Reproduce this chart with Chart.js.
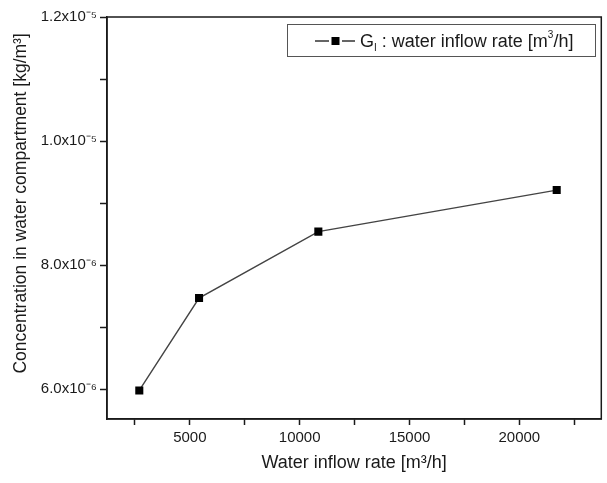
<!DOCTYPE html>
<html>
<head>
<meta charset="utf-8">
<script src="https://cdn.jsdelivr.net/npm/chart.js@4.4.0/dist/chart.umd.min.js"></script>
<style>
  html, body { margin: 0; padding: 0; background: #fff; }
</style>
</head>
<body>
<canvas id="chart" width="607" height="483"></canvas>
<script>
// values
const inflowRates = [2700, 5420, 10850, 21700];                 // m3/h
const concentrations = [5.98e-6, 7.47e-6, 8.54e-6, 9.21e-6];   // kg/m3
const xTicks = [2500, 5000, 7500, 10000, 12500, 15000, 17500, 20000, 22500];
const xTickLabels = ['', '5000', '', '10000', '', '15000', '', '20000', ''];
const yTicks = [6e-6, 7e-6, 8e-6, 9e-6, 1e-5, 1.1e-5, 1.2e-5];
const yTickLabels = ['6.0x10⁻⁶', '', '8.0x10⁻⁶', '', '1.0x10⁻⁵', '', '1.2x10⁻⁵'];

const FONT = "'Liberation Sans', Arial, sans-serif";
const INK = '#1a1a1a';

// box around the plot area (top and right sides)
const frame = {
    id: 'frame',
    afterDraw(chart) {
        const {ctx, chartArea: a} = chart;
        ctx.save();
        ctx.strokeStyle = INK;
        ctx.lineWidth = 1.5;
        ctx.strokeRect(a.left, a.top, a.right - a.left, a.bottom - a.top);
        ctx.restore();
    }
};

// Origin-style legend box with sub/superscripts
const legendBox = {
    id: 'legendBox',
    afterDraw(chart) {
        const ctx = chart.ctx;
        const y = 41;
        ctx.save();
        ctx.strokeStyle = '#555';
        ctx.lineWidth = 1;
        ctx.strokeRect(287.5, 24.5, 308, 32);

        ctx.strokeStyle = '#333';
        ctx.lineWidth = 1.5;
        ctx.beginPath();
        ctx.moveTo(315, y); ctx.lineTo(329, y);
        ctx.moveTo(342, y); ctx.lineTo(355, y);
        ctx.stroke();
        ctx.fillStyle = '#000';
        ctx.fillRect(331.5, y - 4, 8, 8);

        ctx.fillStyle = INK;
        ctx.textBaseline = 'alphabetic';
        let x = 360;
        const base = 47;
        const put = (t, size, dy) => {
            ctx.font = size + 'px ' + FONT;
            ctx.fillText(t, x, base + dy);
            x += ctx.measureText(t).width;
        };
        put('G', 18, 0);
        put('I', 10, 4);
        put(' : water inflow rate [m', 18, 0);
        put('3', 10, -9);
        put('/h]', 18, 0);
        ctx.restore();
    }
};

const ctx = document.getElementById('chart').getContext('2d');
const chart = new Chart(ctx, {
    type: 'line',
    data: {
        datasets: [{
            label: 'GI : water inflow rate [m3/h]',
            data: inflowRates.map((x, i) => ({x: x, y: concentrations[i]})),
            borderColor: '#444',
            borderWidth: 1.4,
            pointStyle: 'rect',
            pointRadius: 5.7,
            pointBackgroundColor: '#000',
            pointBorderColor: '#000',
            pointBorderWidth: 0,
            tension: 0
        }]
    },
    options: {
        responsive: false,
        animation: false,
        layout: { padding: { top: 17, right: 5, left: 0, bottom: 0 } },
        plugins: { legend: { display: false }, tooltip: { enabled: false } },
        scales: {
            x: {
                type: 'linear',
                min: 1230,
                max: 23730,
                afterBuildTicks: s => { s.ticks = xTicks.map(v => ({value: v})); },
                afterFit: s => { s.height = 64; },
                ticks: {
                    autoSkip: false,
                    maxRotation: 0,
                    padding: 4,
                    color: INK,
                    font: { family: FONT, size: 15 },
                    callback: v => xTickLabels[xTicks.indexOf(v)]
                },
                grid: { drawOnChartArea: false, tickLength: 6, tickColor: INK, tickWidth: 1.5 },
                border: { color: INK, width: 1.5 },
                title: {
                    display: true,
                    text: 'Water inflow rate [m³/h]',
                    color: INK,
                    font: { family: FONT, size: 18 },
                    padding: { top: 0, bottom: 9 }
                }
            },
            y: {
                type: 'linear',
                min: 5.52e-6,
                max: 1.2e-5,
                afterBuildTicks: s => { s.ticks = yTicks.map(v => ({value: v})); },
                afterFit: s => { s.width = 107; },
                ticks: {
                    autoSkip: false,
                    padding: 3,
                    color: INK,
                    font: { family: FONT, size: 15 },
                    callback: v => yTickLabels[yTicks.findIndex(t => Math.abs(t - v) < 1e-9)]
                },
                grid: { drawOnChartArea: false, tickLength: 7, tickColor: INK, tickWidth: 1.5 },
                border: { color: INK, width: 1.5 },
                title: {
                    display: true,
                    text: '      Concentration in water compartment [kg/m³]',
                    color: INK,
                    font: { family: FONT, size: 17.5 },
                    padding: { top: 11, bottom: 0 }
                }
            }
        }
    },
    plugins: [frame, legendBox]
});
</script>
</body>
</html>
